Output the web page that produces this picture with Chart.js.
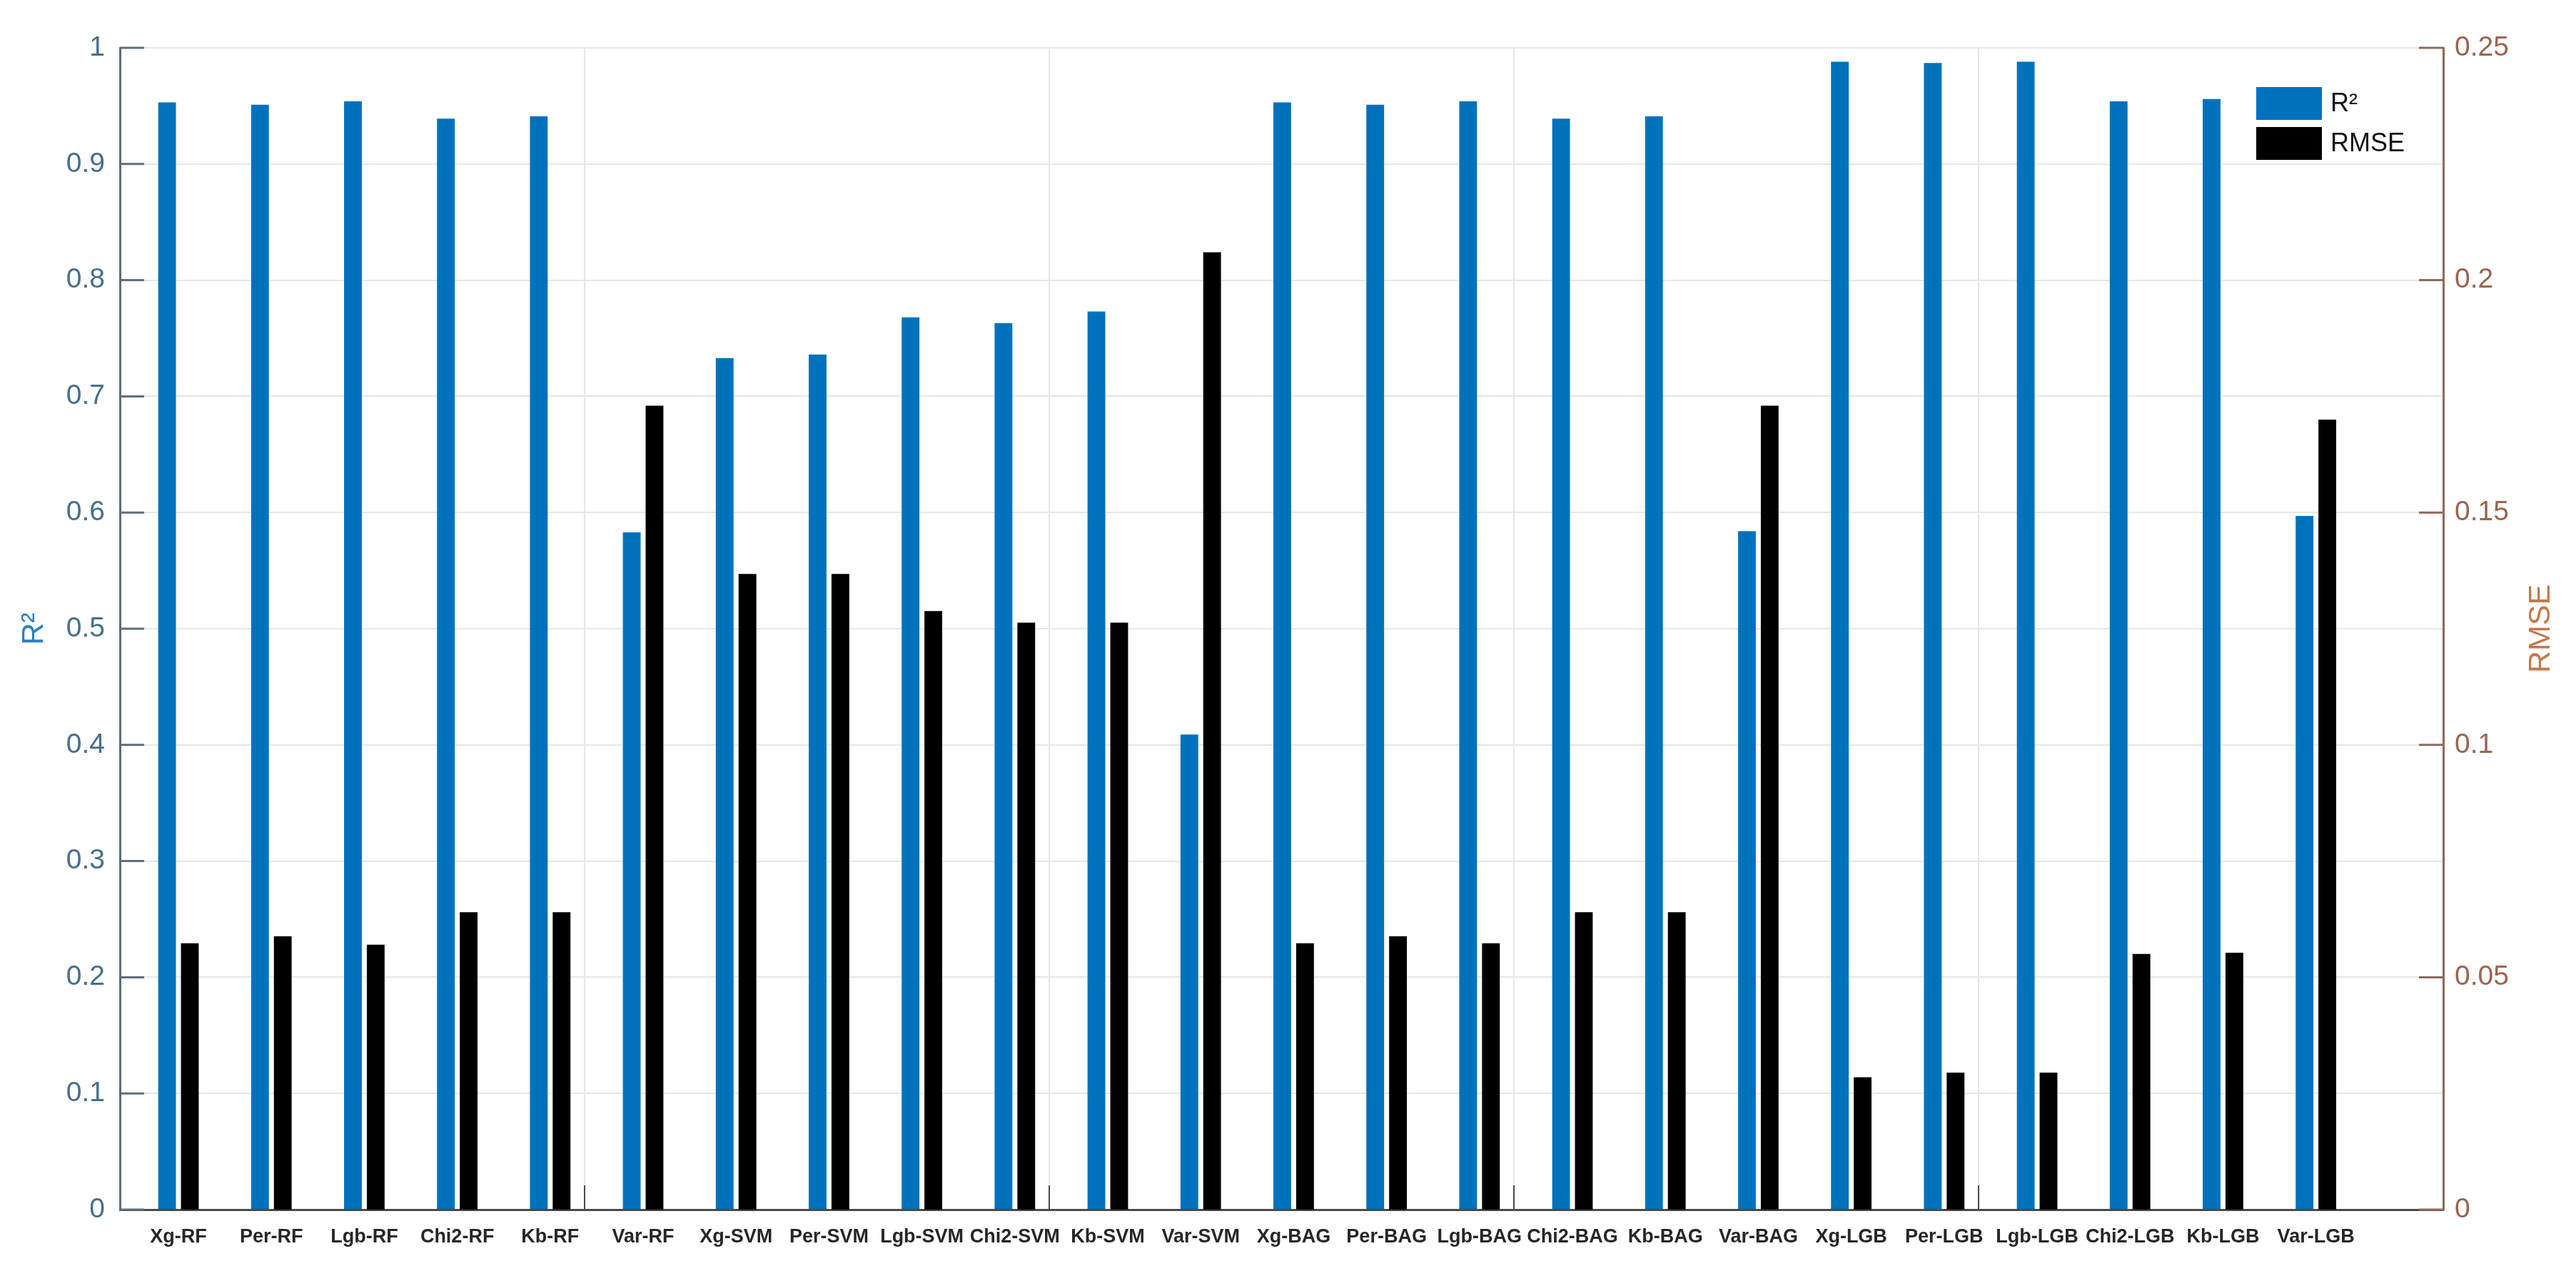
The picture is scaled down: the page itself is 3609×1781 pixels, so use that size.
<!DOCTYPE html>
<html>
<head>
<meta charset="utf-8">
<script src="https://cdn.jsdelivr.net/npm/chart.js@4.4.1/dist/chart.umd.min.js"></script>
<style>
  html, body { margin: 0; padding: 0; background: #fff; }
</style>
</head>
<body>
<canvas id="chart" width="3609" height="1781"></canvas>
<script>
const categories = [
  "Xg-RF", "Per-RF", "Lgb-RF", "Chi2-RF", "Kb-RF", "Var-RF",
  "Xg-SVM", "Per-SVM", "Lgb-SVM", "Chi2-SVM", "Kb-SVM", "Var-SVM",
  "Xg-BAG", "Per-BAG", "Lgb-BAG", "Chi2-BAG", "Kb-BAG", "Var-BAG",
  "Xg-LGB", "Per-LGB", "Lgb-LGB", "Chi2-LGB", "Kb-LGB", "Var-LGB"
];
const r2Values = [
  0.953, 0.951, 0.954, 0.939, 0.941, 0.583,
  0.733, 0.736, 0.768, 0.763, 0.773, 0.409,
  0.953, 0.951, 0.954, 0.939, 0.941, 0.584,
  0.988, 0.987, 0.988, 0.954, 0.956, 0.597
];
const rmseValues = [
  0.0573, 0.0588, 0.0570, 0.0640, 0.0640, 0.1730,
  0.1368, 0.1368, 0.1288, 0.1263, 0.1263, 0.2060,
  0.0573, 0.0588, 0.0573, 0.0640, 0.0640, 0.1730,
  0.0285, 0.0295, 0.0295, 0.0550, 0.0553, 0.1700
];
// x range and the vertical grid lines, in category units (bars sit at 1..24)
const xLimits = [0.37, 25.37];
const xGridAt = [5.37, 10.37, 15.37, 20.37];

const blue = "#0072BD";
const leftText = "#46708a";
const leftLine = "#5b6f7c";
const rightText = "#9b6450";
const rightLine = "#8d6a58";
const gridColor = "#e6e6e6";
const font = "'Liberation Sans', Arial, sans-serif";

const positions = categories.map((c, i) => i + 1);

// drop trailing zeros: 1, 0.9 ... and 0.25, 0.2, 0.15, 0.1 ...
const shortNum = v => String(Number(v.toFixed(3)));

// MATLAB style: tick marks inside the box, legend inside, right label reading upward
const extras = {
  id: "extras",
  afterDraw(chart) {
    const { ctx, chartArea, scales } = chart;
    ctx.save();
    ctx.lineWidth = 3;

    ctx.strokeStyle = leftLine;
    scales.y.ticks.forEach(t => {
      const py = scales.y.getPixelForValue(t.value);
      ctx.beginPath();
      ctx.moveTo(chartArea.left, py);
      ctx.lineTo(chartArea.left + 34, py);
      ctx.stroke();
    });

    ctx.strokeStyle = rightLine;
    scales.y1.ticks.forEach(t => {
      const py = scales.y1.getPixelForValue(t.value);
      ctx.beginPath();
      ctx.moveTo(chartArea.right, py);
      ctx.lineTo(chartArea.right - 34, py);
      ctx.stroke();
    });

    ctx.strokeStyle = "#4a4a4a";
    ctx.lineWidth = 2;
    scales.xg.ticks.forEach(t => {
      const px = scales.xg.getPixelForValue(t.value);
      ctx.beginPath();
      ctx.moveTo(px, chartArea.bottom);
      ctx.lineTo(px, chartArea.bottom - 34);
      ctx.stroke();
    });

    // legend
    const boxX = chartArea.right - 262;
    let boxY = chartArea.top + 55;
    ctx.font = "36px " + font;
    ctx.textBaseline = "middle";
    ctx.textAlign = "left";
    chart.data.datasets.forEach(ds => {
      ctx.fillStyle = ds.backgroundColor;
      ctx.fillRect(boxX, boxY, 92, 46);
      ctx.fillStyle = "#111";
      ctx.fillText(ds.label, boxX + 104, boxY + 24);
      boxY += 56;
    });

    // right axis title
    ctx.translate(3560, (chartArea.top + chartArea.bottom) / 2);
    ctx.rotate(-Math.PI / 2);
    ctx.textAlign = "center";
    ctx.fillStyle = "#c4784a";
    ctx.font = "43px " + font;
    ctx.fillText("RMSE", 0, 0);
    ctx.restore();
  }
};

new Chart(document.getElementById("chart"), {
  type: "bar",
  data: {
    datasets: [
      {
        label: "R²",
        data: r2Values.map((v, i) => ({ x: positions[i], y: v })),
        backgroundColor: blue,
        xAxisID: "x",
        yAxisID: "y"
      },
      {
        label: "RMSE",
        data: rmseValues.map((v, i) => ({ x: positions[i], y: v })),
        backgroundColor: "#000000",
        xAxisID: "x",
        yAxisID: "y1"
      }
    ]
  },
  options: {
    responsive: false,
    animation: false,
    devicePixelRatio: 1,
    categoryPercentage: 0.49,
    barPercentage: 0.78,
    layout: { padding: { top: 67, left: 0, right: 0, bottom: 0 } },
    plugins: { legend: { display: false }, tooltip: { enabled: false } },
    scales: {
      x: {
        type: "linear",
        position: "bottom",
        offset: false,
        min: xLimits[0],
        max: xLimits[1],
        afterBuildTicks: s => { s.ticks = positions.map(p => ({ value: p })); },
        afterFit: s => { s.height = 86; },
        grid: { display: false, drawTicks: false, offset: false },
        border: { color: "#4a4a4a", width: 3 },
        ticks: {
          autoSkip: false,
          maxRotation: 0,
          padding: 22,
          color: "#262626",
          font: { family: font, size: 27, weight: "bold" },
          callback: v => categories[v - 1]
        }
      },
      xg: {
        type: "linear",
        axis: "x",
        position: "bottom",
        offset: false,
        min: xLimits[0],
        max: xLimits[1],
        afterBuildTicks: s => { s.ticks = xGridAt.map(p => ({ value: p })); },
        afterFit: s => { s.height = 0; },
        grid: { color: gridColor, lineWidth: 2, drawTicks: false, offset: false },
        border: { display: false },
        ticks: { display: false }
      },
      y: {
        position: "left",
        min: 0,
        max: 1,
        afterFit: s => { s.width = 168; },
        ticks: {
          stepSize: 0.1,
          padding: 21,
          color: leftText,
          font: { family: font, size: 39 },
          callback: shortNum
        },
        grid: { color: gridColor, lineWidth: 2, drawTicks: false },
        border: { color: leftLine, width: 3 },
        title: {
          display: true,
          text: "R²",
          color: "#2a80bf",
          font: { family: font, size: 43 },
          padding: { top: 22, bottom: 0 }
        }
      },
      y1: {
        position: "right",
        min: 0,
        max: 0.25,
        afterFit: s => { s.width = 186; },
        ticks: {
          stepSize: 0.05,
          padding: 16,
          color: rightText,
          font: { family: font, size: 39 },
          callback: shortNum
        },
        grid: { display: false, drawTicks: false },
        border: { color: rightLine, width: 3 }
      }
    }
  },
  plugins: [extras]
});
</script>
</body>
</html>
